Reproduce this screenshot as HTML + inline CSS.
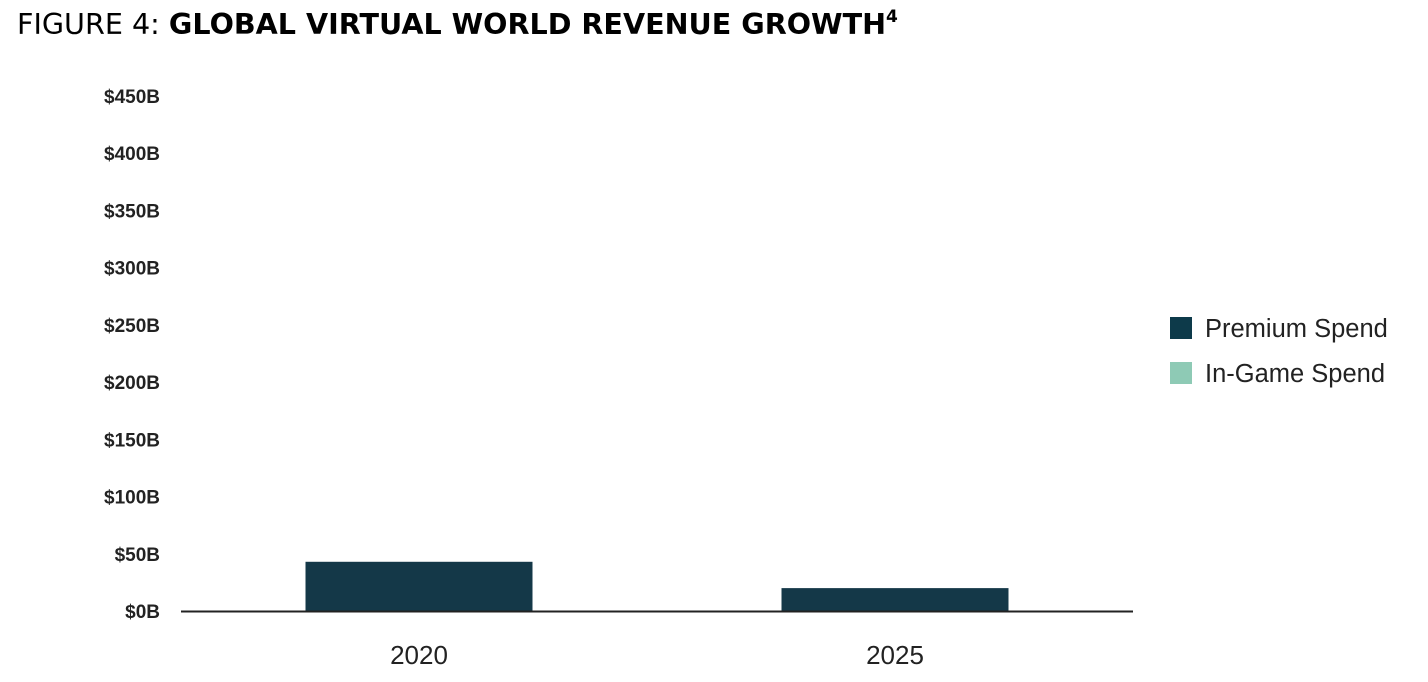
<!DOCTYPE html>
<html><head><meta charset="utf-8"><style>
html,body{margin:0;padding:0;background:#fff;width:1428px;height:682px;overflow:hidden}
</style></head><body>
<svg id="chart" width="1428" height="682" xmlns="http://www.w3.org/2000/svg">
<text x="17" y="34" font-family="'DejaVu Sans',Verdana,sans-serif" font-size="28.6" fill="#000">FIGURE 4: <tspan font-weight="bold">GLOBAL VIRTUAL WORLD REVENUE GROWTH</tspan><tspan font-weight="bold" font-size="17" dy="-12">4</tspan></text>
<g id="yaxis"></g>
<g id="bars"></g>
<line x1="181" x2="1133" y1="611.5" y2="611.5" stroke="#222" stroke-width="2"/>
<g id="xaxis"></g>
<g>
<rect x="1170" y="317" width="22" height="22" fill="#0d3a4a"/>
<text x="1205" y="337" font-family="'Liberation Sans',Arial,sans-serif" font-size="25.5" fill="#222">Premium Spend</text>
<rect x="1170" y="362" width="22" height="22" fill="#8ecab5"/>
<text x="1205" y="382" font-family="'Liberation Sans',Arial,sans-serif" font-size="25.5" fill="#222">In-Game Spend</text>
</g>
</svg>
<script>
const categories = ["2020", "2025"];
const premiumValues = [43, 20];
const inGameValues = [0, 0];
const tickValues = [0, 50, 100, 150, 200, 250, 300, 350, 400, 450];
const tickLabels = ["$0B","$50B","$100B","$150B","$200B","$250B","$300B","$350B","$400B","$450B"];

const NS = "http://www.w3.org/2000/svg";
const y0 = 611, y450 = 96;
function yScale(v){ return y0 - (v/450)*(y0-y450); }
const plotL = 181, plotR = 1133, barW = 227;
function xCenter(i){ return plotL + (plotR-plotL)*(i+0.5)/categories.length; }

const ya = document.getElementById('yaxis');
tickValues.forEach((v,i)=>{
  const t = document.createElementNS(NS,'text');
  
  
  t.setAttribute('x',160); t.setAttribute('y',yScale(v)+7);
  t.setAttribute('text-anchor','end');
  t.setAttribute('font-family',"'Liberation Sans',Arial,sans-serif");
  t.setAttribute('font-size','19'); t.setAttribute('fill','#222');
  t.setAttribute('font-weight','600');
  t.textContent = tickLabels[i];
  ya.appendChild(t);
});
const bars = document.getElementById('bars');
const xa = document.getElementById('xaxis');
categories.forEach((c,i)=>{
  const cx = xCenter(i);
  const r = document.createElementNS(NS,'rect');
  
  
  r.setAttribute('x',cx-barW/2); r.setAttribute('width',barW);
  r.setAttribute('y',yScale(premiumValues[i]));
  r.setAttribute('height',y0-yScale(premiumValues[i]));
  r.setAttribute('fill','#143848');
  bars.appendChild(r);
  if(inGameValues[i]>0){
    const g = document.createElementNS(NS,'rect');
    
    
    const top = yScale(premiumValues[i]+inGameValues[i]);
    g.setAttribute('x',cx-barW/2); g.setAttribute('width',barW);
    g.setAttribute('y',top); g.setAttribute('height',yScale(premiumValues[i])-top);
    g.setAttribute('fill','#8ecab5');
    bars.appendChild(g);
  }
  const t = document.createElementNS(NS,'text');
  
  
  t.setAttribute('x',cx); t.setAttribute('y',664);
  t.setAttribute('text-anchor','middle');
  t.setAttribute('font-family',"'Liberation Sans',Arial,sans-serif");
  t.setAttribute('font-size','26'); t.setAttribute('fill','#222');
  t.textContent = c;
  xa.appendChild(t);
});
</script>
</body></html>
